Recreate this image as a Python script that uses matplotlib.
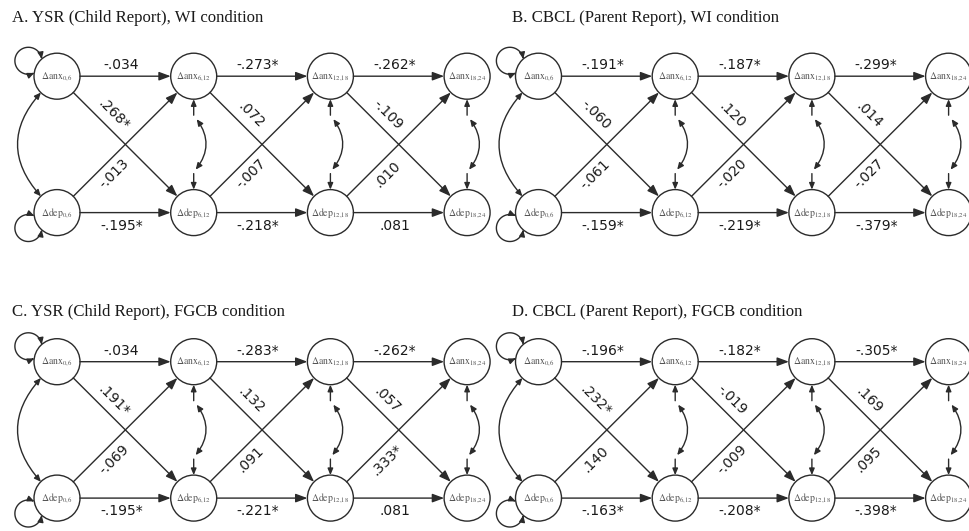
import numpy as np
import matplotlib.pyplot as plt
from matplotlib.patches import Circle, FancyArrowPatch
from matplotlib.path import Path

plt.rcParams["mathtext.fontset"] = "stix"

# panel titles, in reading order
TITLES = [
  "A. YSR (Child Report), WI condition",
  "B. CBCL (Parent Report), WI condition",
  "C. YSR (Child Report), FGCB condition",
  "D. CBCL (Parent Report), FGCB condition",
]
WAVES = ["0{,}6", "6{,}12", "12{,}18", "18{,}24"]

# autoregressive paths anx -> anx (top row)
ANX_PATH = [[-.034, -.273, -.262], [-.191, -.187, -.299],
            [-.034, -.283, -.262], [-.196, -.182, -.305]]
ANX_SIG = [[0, 1, 1], [1, 1, 1], [0, 1, 1], [1, 1, 1]]
# autoregressive paths dep -> dep (bottom row)
DEP_PATH = [[-.195, -.218, .081], [-.159, -.219, -.379],
            [-.195, -.221, .081], [-.163, -.208, -.398]]
DEP_SIG = [[1, 1, 0], [1, 1, 1], [1, 1, 0], [1, 1, 1]]
# cross-lagged anx(t) -> dep(t+1)
ANX_DEP = [[.268, .072, -.109], [-.060, .120, .014],
           [.191, .132, .057], [.232, -.019, .169]]
ANX_DEP_SIG = [[1, 0, 0], [0, 0, 0], [1, 0, 0], [1, 0, 0]]
# cross-lagged dep(t) -> anx(t+1)
DEP_ANX = [[-.013, -.007, .010], [-.061, -.020, -.027],
           [-.069, .091, .333], [.140, -.009, .095]]
DEP_ANX_SIG = [[0, 0, 0], [0, 0, 0], [0, 0, 1], [0, 0, 0]]

# layout (pixel units, y down)
PANEL_ORIGIN = [(57.0, 76.2), (538.5, 76.2), (57.0, 361.7), (538.5, 361.7)]
TITLE_POS = [(12, 22.5), (512, 22.5), (12, 315.5), (512, 315.5)]
COL_STEP = 136.7
ROW_STEP = 136.4
R = 23.0

LINE = "#2b2b2b"
BIG_HEAD = "-|>,head_length=7.0,head_width=2.6"
SMALL_HEAD = "-|>,head_length=3.8,head_width=1.6"
SMALL_BOTH = "<|-|>,head_length=3.8,head_width=1.7"
COEF_FONT = dict(family="DejaVu Sans", fontsize=10, color="#1a1a1a")


def fmt(v, sig):
  s = ("-" if v < 0 else "") + f"{abs(v):.3f}"[1:]
  return s + ("*" if sig else "")


def arrow(ax, p, q, style, rad=0.0, lw=1.0):
  a = FancyArrowPatch(p, q, arrowstyle=style, mutation_scale=1,
                      shrinkA=0, shrinkB=0, color=LINE, lw=lw,
                      connectionstyle=f"arc3,rad={rad}", zorder=4)
  ax.add_patch(a)


def self_loop(ax, c, u):
  # small circular arc sitting on the node rim, both ends headed
  r, d = 13.5, 32.5
  u = np.asarray(u) / np.hypot(*u)
  cl = np.asarray(c) + d * u
  th0 = np.arctan2(-u[1], -u[0])
  phi = np.arccos((r ** 2 + d ** 2 - R ** 2) / (2 * r * d))
  t = np.linspace(th0 + phi, th0 + 2 * np.pi - phi, 60)
  verts = np.column_stack([cl[0] + r * np.cos(t), cl[1] + r * np.sin(t)])
  a = FancyArrowPatch(path=Path(verts), arrowstyle=SMALL_BOTH, mutation_scale=1,
                      shrinkA=0, shrinkB=0, color=LINE, lw=1.0, zorder=4)
  ax.add_patch(a)


def draw_panel(ax, k):
  x0, y0 = PANEL_ORIGIN[k]
  xs = x0 + COL_STEP * np.arange(4)
  ytop, ybot = y0, y0 + ROW_STEP

  ax.text(*TITLE_POS[k], TITLES[k], family="Liberation Serif", fontsize=12.1,
          color="#1a1a1a", ha="left", va="baseline")

  for i, w in enumerate(WAVES):
    for y, name in ((ytop, "anx"), (ybot, "dep")):
      ax.add_patch(Circle((xs[i], y), R, fc="white", ec=LINE, lw=1.0, zorder=2))
      ax.text(xs[i], y, rf"$\Delta\mathrm{{{name}}}_{{{w}}}$", fontsize=7.0,
              color="#555555", ha="center", va="center", zorder=5)

  for i in range(3):
    # stability paths
    arrow(ax, (xs[i] + R, ytop), (xs[i + 1] - R, ytop), BIG_HEAD)
    arrow(ax, (xs[i] + R, ybot), (xs[i + 1] - R, ybot), BIG_HEAD)
    xm = (xs[i] + xs[i + 1]) / 2 - 4
    ax.text(xm, ytop - 11, fmt(ANX_PATH[k][i], ANX_SIG[k][i]),
            ha="center", va="center", **COEF_FONT)
    ax.text(xm, ybot + 13, fmt(DEP_PATH[k][i], DEP_SIG[k][i]),
            ha="center", va="center", **COEF_FONT)

    # cross-lagged paths
    for s, e, val, sig, side in (
        ((xs[i], ytop), (xs[i + 1], ybot), ANX_DEP[k][i], ANX_DEP_SIG[k][i], 1),
        ((xs[i], ybot), (xs[i + 1], ytop), DEP_ANX[k][i], DEP_ANX_SIG[k][i], -1)):
      s, e = np.array(s), np.array(e)
      u = (e - s) / np.hypot(*(e - s))
      arrow(ax, s + R * u, e - R * u, BIG_HEAD)
      n = np.array([u[1], -u[0]]) * side
      pos = s + 0.35 * (e - s) + 13.0 * n
      ang = -np.degrees(np.arctan2(u[1], u[0]))
      ax.text(pos[0], pos[1], fmt(val, sig), rotation=ang, rotation_mode="anchor",
              ha="center", va="center", **COEF_FONT)

  # residual covariances at later waves
  for i in range(1, 4):
    xc = xs[i]
    arrow(ax, (xc, ytop + R + 16), (xc, ytop + R), SMALL_HEAD)
    arrow(ax, (xc, ybot - R - 16), (xc, ybot - R), SMALL_HEAD)
    arrow(ax, (xc + 3, ytop + R + 20), (xc + 2, ybot - R - 20), SMALL_BOTH, rad=-0.37)

  # covariance at first wave
  arrow(ax, (xs[0] - 0.70 * R, ytop + 0.71 * R), (xs[0] - 0.70 * R, ybot - 0.71 * R),
        SMALL_BOTH, rad=0.44)

  # variances
  self_loop(ax, (xs[0], ytop), (-0.88, -0.474))
  self_loop(ax, (xs[0], ybot), (-0.88, 0.474))


fig = plt.figure(figsize=(9.69, 5.31), dpi=100)
ax = fig.add_axes([0, 0, 1, 1])
ax.set_xlim(0, 969)
ax.set_ylim(531, 0)
ax.axis("off")

for k in range(4):
  draw_panel(ax, k)

fig.savefig("out.png", dpi=100, facecolor="white")
